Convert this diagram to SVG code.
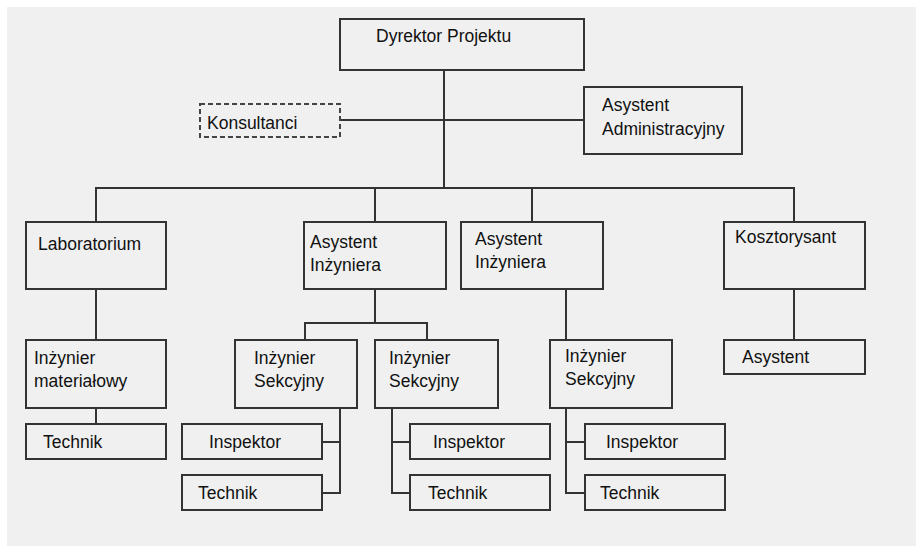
<svg xmlns="http://www.w3.org/2000/svg" width="916" height="546" viewBox="0 0 916 546">
  <style>
    .box { fill: #f0f0f0; stroke: #333; stroke-width: 2; }
    .dash { fill: #f0f0f0; stroke: #444; stroke-width: 2; stroke-dasharray: 5 3; }
    .wire { fill: none; stroke: #333; stroke-width: 2; }
    text { font-family: "Liberation Sans", Arial, sans-serif; font-size: 17.5px; fill: #111; }
  </style>
  <rect x="0" y="0" width="916" height="546" fill="#ffffff"/>
  <rect x="7" y="7" width="909" height="539" fill="#f0f0f0"/>

  <g id="connectors">
    <path class="wire" d="M444 70 V188"/>
    <path class="wire" d="M340 120 H584"/>
    <path class="wire" d="M96 222 V188 H794 V222"/>
    <path class="wire" d="M375 188 V222"/>
    <path class="wire" d="M532 188 V222"/>
    <path class="wire" d="M96 289 V340"/>
    <path class="wire" d="M96 408 V424"/>
    <path class="wire" d="M375 289 V323"/>
    <path class="wire" d="M305 340 V323 H427 V340"/>
    <path class="wire" d="M566 289 V340"/>
    <path class="wire" d="M794 289 V340"/>
    <path class="wire" d="M340 408 V493 H322"/>
    <path class="wire" d="M340 442 H322"/>
    <path class="wire" d="M392 408 V493 H410"/>
    <path class="wire" d="M392 442 H410"/>
    <path class="wire" d="M566 408 V493 H585"/>
    <path class="wire" d="M566 442 H585"/>
  </g>

  <g id="dyrektor">
    <rect class="box" x="340" y="19" width="244" height="51"/>
    <text x="376" y="42">Dyrektor Projektu</text>
  </g>
  <g id="konsultanci">
    <rect class="dash" x="200" y="104" width="140" height="33"/>
    <text x="207" y="129">Konsultanci</text>
  </g>
  <g id="asystent-admin">
    <rect class="box" x="584" y="87" width="158" height="67"/>
    <text x="602" y="111">Asystent</text>
    <text x="602" y="135">Administracyjny</text>
  </g>

  <g id="laboratorium">
    <rect class="box" x="26" y="222" width="140" height="67"/>
    <text x="38" y="250">Laboratorium</text>
  </g>
  <g id="asystent-inz-1">
    <rect class="box" x="304" y="222" width="142" height="67"/>
    <text x="310" y="248">Asystent</text>
    <text x="310" y="271">Inżyniera</text>
  </g>
  <g id="asystent-inz-2">
    <rect class="box" x="461" y="222" width="142" height="67"/>
    <text x="475" y="245">Asystent</text>
    <text x="475" y="268">Inżyniera</text>
  </g>
  <g id="kosztorysant">
    <rect class="box" x="724" y="222" width="141" height="67"/>
    <text x="735" y="243">Kosztorysant</text>
  </g>

  <g id="inz-materialowy">
    <rect class="box" x="26" y="340" width="140" height="68"/>
    <text x="34" y="364">Inżynier</text>
    <text x="34" y="387">materiałowy</text>
  </g>
  <g id="technik-lab">
    <rect class="box" x="26" y="424" width="140" height="35"/>
    <text x="43" y="448">Technik</text>
  </g>

  <g id="inz-sekcyjny-1">
    <rect class="box" x="235" y="340" width="122" height="68"/>
    <text x="254" y="364">Inżynier</text>
    <text x="254" y="387">Sekcyjny</text>
  </g>
  <g id="inspektor-1">
    <rect class="box" x="182" y="424" width="140" height="35"/>
    <text x="209" y="448">Inspektor</text>
  </g>
  <g id="technik-1">
    <rect class="box" x="182" y="475" width="140" height="35"/>
    <text x="198" y="499">Technik</text>
  </g>

  <g id="inz-sekcyjny-2">
    <rect class="box" x="375" y="340" width="123" height="68"/>
    <text x="389" y="364">Inżynier</text>
    <text x="389" y="387">Sekcyjny</text>
  </g>
  <g id="inspektor-2">
    <rect class="box" x="410" y="424" width="140" height="35"/>
    <text x="433" y="448">Inspektor</text>
  </g>
  <g id="technik-2">
    <rect class="box" x="410" y="475" width="140" height="35"/>
    <text x="428" y="499">Technik</text>
  </g>

  <g id="inz-sekcyjny-3">
    <rect class="box" x="550" y="340" width="122" height="68"/>
    <text x="565" y="362">Inżynier</text>
    <text x="565" y="385">Sekcyjny</text>
  </g>
  <g id="inspektor-3">
    <rect class="box" x="585" y="424" width="140" height="35"/>
    <text x="606" y="448">Inspektor</text>
  </g>
  <g id="technik-3">
    <rect class="box" x="585" y="475" width="140" height="35"/>
    <text x="600" y="499">Technik</text>
  </g>

  <g id="asystent-koszt">
    <rect class="box" x="724" y="340" width="141" height="34"/>
    <text x="742" y="363">Asystent</text>
  </g>
</svg>
